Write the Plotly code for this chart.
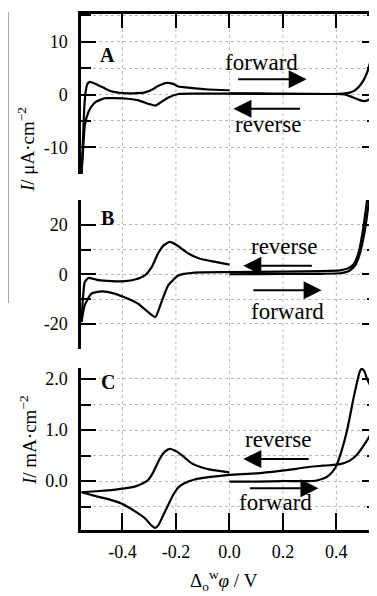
import plotly.graph_objects as go

# ---------------- data ----------------
# Panel A (uA cm^-2)
a_fwd1_x = [0.0, 0.1, 0.2, 0.3, 0.38, 0.426, 0.45, 0.47, 0.489, 0.505, 0.52, 0.53, 0.538, 0.546, 0.553]
a_fwd1_y = [0.2, 0.2, 0.15, 0.1, 0.1, 0.15, 0.35, 0.8, 1.75, 3.0, 4.9, 7.0, 9.9, 12.5, 15.5]
a_rev_x = [0.555, 0.553, 0.548, 0.54, 0.53, 0.515, 0.505, 0.49, 0.47, 0.45, 0.43, 0.4, 0.2, 0.0, -0.1,
           -0.19, -0.23, -0.26, -0.277, -0.3, -0.34, -0.38, -0.43, -0.466, -0.5, -0.516, -0.528, -0.541, -0.547, -0.553]
a_rev_y = [15.0, 6.0, 2.0, 0.2, -0.6, -1.15, -1.25, -1.1, -0.7, -0.3, 0.0, 0.1, 0.1, 0.15, 0.15,
           0.1, -0.6, -1.6, -2.1, -1.8, -1.1, -0.8, -0.7, -0.7, -1.4, -2.3, -3.4, -5.9, -10.3, -15.0]
a_fwd2_x = [-0.553, -0.548, -0.543, -0.538, -0.531, -0.522, -0.5, -0.46, -0.441, -0.41, -0.379, -0.345, -0.316,
            -0.29, -0.267, -0.235, -0.21, -0.19, -0.154, -0.13, -0.08, 0.0]
a_fwd2_y = [-15.0, -9.0, -2.7, 0.4, 2.0, 2.4, 2.0, 1.0, 0.6, 0.3, 0.2, 0.25, 0.4,
            0.9, 1.6, 2.2, 2.0, 1.5, 1.3, 1.15, 0.95, 0.8]

# Panel B (uA cm^-2)
b_fwd1_x = [0.0, 0.2, 0.35, 0.414, 0.44, 0.451, 0.47, 0.482, 0.492, 0.501, 0.51, 0.52, 0.528]
b_fwd1_y = [0.0, 0.1, 0.2, 0.4, 1.0, 1.6, 3.5, 6.3, 10.0, 14.4, 20.0, 27.9, 36.0]
b_rev_x = [0.522, 0.515, 0.505, 0.495, 0.485, 0.472, 0.46, 0.44, 0.414, 0.35, 0.2, 0.0, -0.13, -0.19,
           -0.229, -0.254, -0.277, -0.304, -0.34, -0.379, -0.43, -0.478, -0.516, -0.541, -0.553]
b_rev_y = [36.0, 30.0, 22.0, 15.0, 9.5, 5.5, 3.5, 2.2, 1.6, 1.3, 1.1, 0.9, 0.7, -0.4,
           -4.5, -11.2, -17.3, -15.3, -12.0, -9.9, -7.8, -6.9, -7.8, -12.5, -19.3]
b_fwd2_x = [-0.553, -0.548, -0.541, -0.528, -0.51, -0.49, -0.44, -0.391, -0.35, -0.316, -0.29, -0.267,
            -0.245, -0.223, -0.2, -0.154, -0.11, -0.067, 0.0]
b_fwd2_y = [-19.3, -10.0, -3.1, -1.5, -1.8, -2.4, -2.8, -2.8, -2.0, -0.4, 3.0, 8.4,
            11.8, 13.1, 12.0, 8.4, 6.3, 5.3, 3.9]

# Panel C (mA cm^-2)
c_fwd1_x = [0.0, 0.1, 0.2, 0.314, 0.34, 0.364, 0.385, 0.401, 0.42, 0.439, 0.452, 0.464, 0.478, 0.488,
            0.495, 0.505, 0.515, 0.526, 0.54, 0.552]
c_fwd1_y = [-0.01, -0.01, 0.0, 0.0, 0.03, 0.08, 0.18, 0.31, 0.6, 0.97, 1.3, 1.62, 1.95, 2.15,
            2.2, 2.15, 2.0, 1.88, 1.6, 1.36]
c_rev_x = [0.552, 0.54, 0.526, 0.5, 0.476, 0.45, 0.414, 0.35, 0.302, 0.25, 0.19, 0.1, 0.0, -0.07, -0.13,
           -0.17, -0.192, -0.21, -0.229, -0.25, -0.265, -0.277, -0.29, -0.316, -0.36, -0.404, -0.45, -0.49, -0.553]
c_rev_y = [1.36, 1.1, 0.9, 0.68, 0.51, 0.4, 0.33, 0.3, 0.28, 0.24, 0.2, 0.15, 0.12, 0.08, 0.03,
           -0.05, -0.13, -0.27, -0.47, -0.7, -0.86, -0.92, -0.88, -0.73, -0.57, -0.44, -0.36, -0.31, -0.22]
c_fwd2_x = [-0.553, -0.5, -0.441, -0.4, -0.354, -0.325, -0.304, -0.285, -0.26, -0.24, -0.223, -0.205,
            -0.192, -0.165, -0.142, -0.1, -0.067, 0.0]
c_fwd2_y = [-0.22, -0.2, -0.18, -0.15, -0.11, -0.05, 0.02, 0.17, 0.44, 0.58, 0.63, 0.6,
            0.56, 0.45, 0.35, 0.26, 0.22, 0.17]

x_ticks = [-0.4, -0.2, 0.0, 0.2, 0.4]
x_ticktext = ["-0.4", "-0.2", "0.0", "0.2", "0.4"]
a_ticks, a_ticktext, a_minor = [-10, 0, 10], ["-10", "0", "10"], [-15, -5, 5, 15]
b_ticks, b_ticktext, b_minor = [-20, 0, 20], ["-20", "0", "20"], [-30, -10, 10, 30]
c_ticks, c_ticktext, c_minor = [0, 1, 2], ["0.0", "1.0", "2.0"], [-0.5, 0.5, 1.5]

# ---------------- figure ----------------
FONT = "Liberation Serif"
XR = [-0.555, 0.552]
LW = 2.2

fig = go.Figure()
line = dict(color="black", width=LW, shape="spline", smoothing=0.5)
for xs, ys, ya in [
    (a_fwd1_x, a_fwd1_y, "y"), (a_rev_x, a_rev_y, "y"), (a_fwd2_x, a_fwd2_y, "y"),
    (b_fwd1_x, b_fwd1_y, "y2"), (b_rev_x, b_rev_y, "y2"), (b_fwd2_x, b_fwd2_y, "y2"),
    (c_fwd1_x, c_fwd1_y, "y3"), (c_rev_x, c_rev_y, "y3"), (c_fwd2_x, c_fwd2_y, "y3"),
]:
    fig.add_trace(go.Scatter(x=xs, y=ys, mode="lines", line=line, xaxis="x", yaxis=ya,
                             showlegend=False, hoverinfo="skip"))
# placeholder so the top axis of panel A is drawn
fig.add_trace(go.Scatter(x=[None], y=[None], xaxis="x2", yaxis="y", showlegend=False))

grid = dict(showgrid=True, gridcolor="#b8b8b8", gridwidth=1, griddash="dot")

def yax(domain, rng, tv, tt, minor):
    return dict(domain=domain, range=rng, anchor="x", tickmode="array", tickvals=tv, ticktext=tt,
                ticks="inside", ticklen=15, tickwidth=2, tickcolor="black",
                showline=True, linewidth=2.5, linecolor="black", mirror="ticks",
                zeroline=False, ticklabelstandoff=7, automargin=False,
                tickfont=dict(family=FONT, size=18, color="black"),
                minor=dict(tickmode="array", tickvals=minor, ticks="inside", ticklen=10,
                           tickwidth=2, tickcolor="black", **grid),
                **grid)

# the page body adds an 8 px offset, so the margins are reduced by 8 px on the top/left
fig.update_layout(
    width=377, height=596,
    margin=dict(l=73, r=8, t=6, b=74, autoexpand=False),
    paper_bgcolor="white", plot_bgcolor="white",
    font=dict(family=FONT, size=18, color="black"),
    xaxis=dict(range=XR, anchor="y3", tickmode="array", tickvals=x_ticks, ticktext=x_ticktext,
               ticks="inside", ticklen=17, tickwidth=2, tickcolor="black", automargin=False,
               showline=True, linewidth=2.5, linecolor="black", showgrid=False, zeroline=False,
               ticklabelstandoff=4, tickfont=dict(family=FONT, size=18, color="black")),
    xaxis2=dict(range=XR, overlaying="x", anchor="y", side="top", tickmode="array", tickvals=x_ticks,
                ticks="inside", ticklen=14, tickwidth=2, tickcolor="black", showticklabels=False,
                automargin=False,
                showline=True, linewidth=2.5, linecolor="black", showgrid=False, zeroline=False),
    yaxis=yax([0.690, 1.0], [-15, 15.2], a_ticks, a_ticktext, a_minor),
    yaxis2=yax([0.3517, 0.6395], [-30, 30], b_ticks, b_ticktext, b_minor),
    yaxis3=yax([0.0, 0.314], [-0.96, 2.216], c_ticks, c_ticktext, c_minor),
)

# vertical dotted grid lines running through all three panels
for xv in x_ticks:
    fig.add_shape(type="line", xref="x", yref="paper", x0=xv, x1=xv, y0=0, y1=1,
                  line=dict(color="#b8b8b8", width=1, dash="dot"), layer="below")
# grey bracket line at the far left
fig.add_shape(type="line", xref="paper", yref="paper", x0=-0.2466, x1=-0.2466, y0=0.44, y1=1.004,
              line=dict(color="#8a8a8a", width=1.5))

# panel letters
for txt, yr, yv in [("A", "y", 7.4), ("B", "y2", 22.7), ("C", "y3", 1.94)]:
    fig.add_annotation(text="<b>%s</b>" % txt, x=-0.455, y=yv, xref="x", yref=yr, showarrow=False,
                       xanchor="center", yanchor="middle",
                       font=dict(family=FONT, size=20, color="black"))

# direction labels and arrows
lab = dict(family=FONT, size=23, color="black")
def arrow(x_tail, x_head, yv, yr):
    fig.add_annotation(x=x_head, y=yv, ax=x_tail, ay=yv, xref="x", yref=yr, axref="x", ayref=yr,
                       showarrow=True, arrowhead=2, arrowsize=1.8, arrowwidth=2, arrowcolor="black",
                       text="")
def label(txt, xv, yv, yr):
    fig.add_annotation(text=txt, x=xv, y=yv, xref="x", yref=yr, showarrow=False, font=lab,
                       xanchor="center", yanchor="middle")

label("forward", 0.121, 6.1, "y"); arrow(0.027, 0.289, 2.9, "y")
label("reverse", 0.145, -5.75, "y"); arrow(0.27, 0.015, -2.7, "y")
label("reverse", 0.205, 11.3, "y2"); arrow(0.314, 0.052, 3.4, "y2")
label("forward", 0.218, -15.0, "y2"); arrow(0.084, 0.345, -6.5, "y2")
label("reverse", 0.183, 0.81, "y3"); arrow(0.302, 0.052, 0.43, "y3")
label("forward", 0.171, -0.43, "y3"); arrow(0.071, 0.333, -0.14, "y3")

# axis titles
ttl = dict(family=FONT, size=19, color="black")
fig.add_annotation(text="<i>I</i>/ μA·cm<sup>−2</sup>", xref="paper", yref="paper",
                   x=(26 - 81) / 296, y=(530 - 150) / 516, showarrow=False, textangle=-90,
                   xanchor="center", yanchor="middle", font=ttl)
fig.add_annotation(text="<i>I</i>/ mA·cm<sup>−2</sup>", xref="paper", yref="paper",
                   x=(28 - 81) / 296, y=(530 - 440) / 516, showarrow=False, textangle=-90,
                   xanchor="center", yanchor="middle", font=ttl)
fig.add_annotation(text="Δ<sub>o</sub><sup>w</sup><i>φ</i> / V", xref="paper", yref="paper",
                   x=(224 - 81) / 296, y=(530 - 580) / 516, showarrow=False,
                   xanchor="center", yanchor="middle",
                   font=dict(family=FONT, size=19, color="black"))

fig.write_html("out.html")
